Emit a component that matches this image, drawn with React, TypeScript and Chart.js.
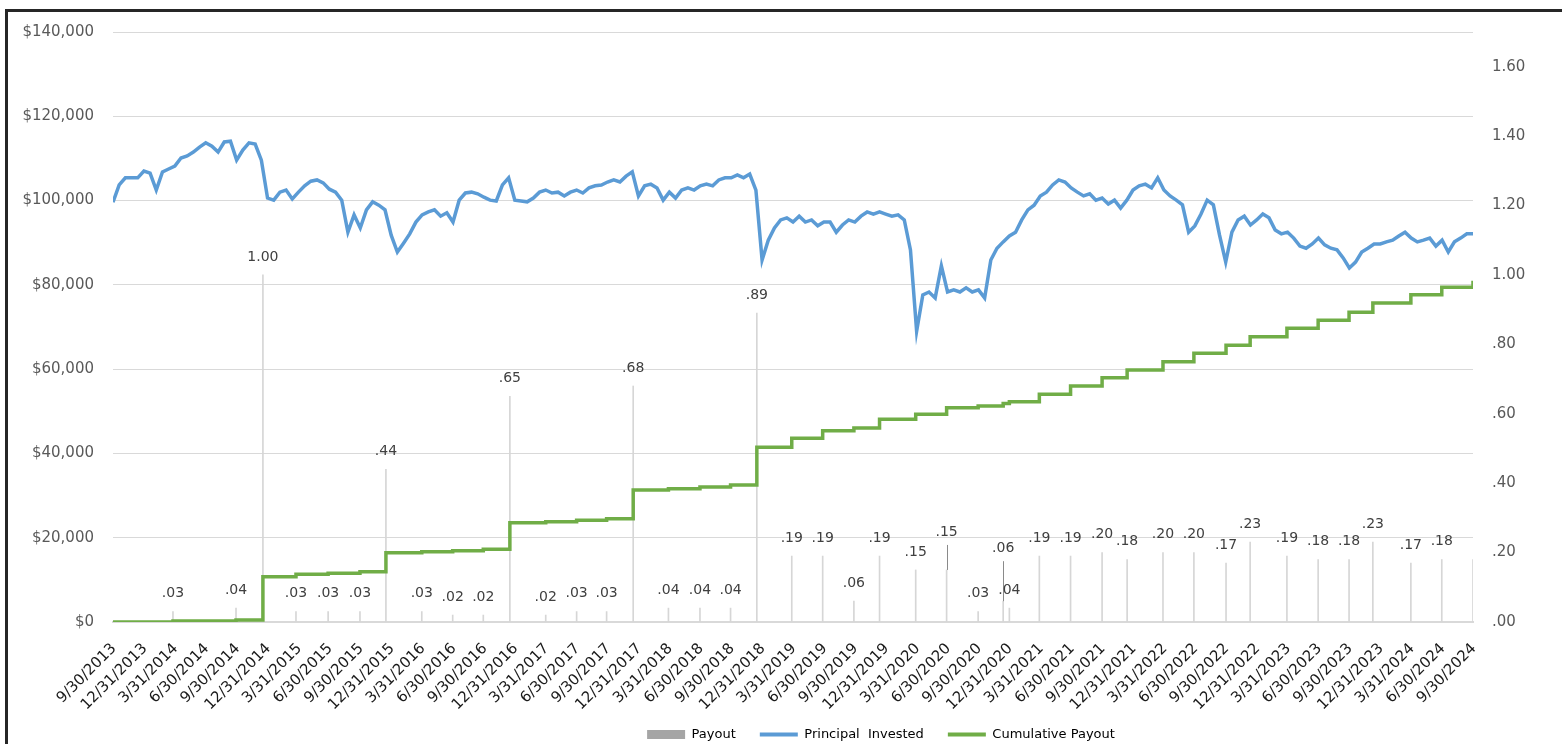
import React, { useEffect, useRef } from 'react';
import { Chart, registerables } from 'chart.js';

Chart.register(...registerables);

const FONT = "'DejaVu Sans', Lato, sans-serif";

// Quarter-end tick labels (x = quarters since 9/30/2013)
const tickLabels = [
  '9/30/2013', '12/31/2013',
  '3/31/2014', '6/30/2014', '9/30/2014', '12/31/2014',
  '3/31/2015', '6/30/2015', '9/30/2015', '12/31/2015',
  '3/31/2016', '6/30/2016', '9/30/2016', '12/31/2016',
  '3/31/2017', '6/30/2017', '9/30/2017', '12/31/2017',
  '3/31/2018', '6/30/2018', '9/30/2018', '12/31/2018',
  '3/31/2019', '6/30/2019', '9/30/2019', '12/31/2019',
  '3/31/2020', '6/30/2020', '9/30/2020', '12/31/2020',
  '3/31/2021', '6/30/2021', '9/30/2021', '12/31/2021',
  '3/31/2022', '6/30/2022', '9/30/2022', '12/31/2022',
  '3/31/2023', '6/30/2023', '9/30/2023', '12/31/2023',
  '3/31/2024', '6/30/2024', '9/30/2024',
];

// Payout dates (in quarters since 9/30/2013)
const payoutQuarter = [
  1.94, 3.98, 4.85, 5.92, 6.96, 7.99, 8.83, 9.99, 10.99, 11.98,
  12.84, 14.0, 15.0, 15.97, 16.83, 17.97, 18.99, 19.98, 20.83, 21.96,
  22.96, 23.97, 24.8, 25.97, 26.97, 27.99, 28.8, 29.0, 29.97, 30.98,
  32.0, 32.81, 33.97, 34.97, 36.01, 36.79, 37.98, 38.99, 39.99, 40.76,
  41.99, 42.99, 44.0,
];

// Payout per share
const payoutAmount = [
  0.03, 0.04, 1.0, 0.03, 0.03, 0.03, 0.44, 0.03, 0.02, 0.02,
  0.65, 0.02, 0.03, 0.03, 0.68, 0.04, 0.04, 0.04, 0.89, 0.19,
  0.19, 0.06, 0.19, 0.15, 0.15, 0.03, 0.06, 0.04, 0.19, 0.19,
  0.2, 0.18, 0.2, 0.2, 0.17, 0.23, 0.19, 0.18, 0.18, 0.23,
  0.17, 0.18, 0.18,
];

// Cumulative payout ($) after each payout date
const cumulativePayout = [
  230, 470, 10750, 11320, 11560, 11940, 16440, 16680, 16920, 17250,
  23560, 23800, 24130, 24510, 31320, 31630, 32030, 32510, 41450, 43590,
  45390, 46030, 48090, 49280, 50850, 51250, 51850, 52270, 54030, 56000,
  57970, 59800, 61770, 63750, 65640, 67700, 69690, 71590, 73490, 75700,
  77660, 79420, 80990,
];

// Principal invested ($), sampled every 1/5 quarter from 9/30/2013
const principalStep = 0.2;
const principalInvested = [
  99600, 103700, 105400, 105400, 105400, 107000, 106500, 102500, 106800, 107500,
  108200, 110100, 110600, 111500, 112700, 113700, 112900, 111500, 113900, 114100,
  109600, 112000, 113700, 113400, 109600, 100600, 100100, 102000, 102500, 100400,
  102000, 103500, 104600, 104900, 104200, 102700, 102000, 100100, 92500, 96600,
  93500, 97800, 99700, 98900, 97800, 91800, 87800, 89900, 92100, 94900,
  96600, 97300, 97800, 96300, 97100, 94900, 100100, 101800, 102000, 101600,
  100800, 100100, 99900, 103700, 105400, 100100, 99900, 99700, 100600, 102000,
  102500, 101800, 102000, 101100, 102000, 102500, 101800, 103000, 103500, 103700,
  104400, 104900, 104400, 105800, 106800, 101100, 103500, 103900, 103000, 100100,
  102000, 100600, 102500, 103000, 102500, 103500, 103900, 103500, 104900, 105400,
  105400, 106100, 105400, 106300, 102500, 85900, 90600, 93500, 95400, 95900,
  94900, 96300, 94900, 95400, 94000, 94900, 94900, 92500, 94200, 95400,
  94900, 96300, 97300, 96800, 97300, 96800, 96300, 96600, 95400, 88300,
  69000, 77600, 78300, 76900, 84500, 78300, 78800, 78300, 79300, 78300,
  78800, 76900, 85900, 88700, 90200, 91600, 92500, 95400, 97800, 98900,
  101100, 102000, 103700, 104900, 104400, 103000, 102000, 101100, 101600, 100100,
  100600, 99200, 100100, 98200, 100100, 102500, 103500, 103900, 103000, 105400,
  102500, 101100, 100100, 99000, 92500, 94000, 96800, 100100, 99000, 91800,
  85400, 92500, 95400, 96300, 94200, 95400, 96800, 95900, 93000, 92100,
  92500, 91100, 89200, 88700, 89700, 91100, 89500, 88700, 88300, 86400,
  84000, 85400, 87800, 88700, 89700, 89700, 90200, 90600, 91600, 92500,
  91100, 90200, 90600, 91100, 89200, 90600, 87800, 90200, 91100, 92100,
  92100,
];

// Label display tweaks (index -> lift in px, with leader line); last bar unlabeled
const liftedLabels: Record<number, number> = { 24: 38, 26: 53 };
const unlabeledPayouts = [42];

const fmtPayout = (v: number) => {
  const s = v.toFixed(2);
  return s.startsWith('0') ? s.slice(1) : s;
};

const payoutLabelPlugin = {
  id: 'payoutLabels',
  afterDatasetsDraw(chart: any) {
    const meta = chart.getDatasetMeta(0);
    const ctx = chart.ctx;
    ctx.save();
    ctx.font = `14px ${FONT}`;
    ctx.fillStyle = '#404040';
    ctx.textAlign = 'center';
    ctx.textBaseline = 'middle';
    meta.data.forEach((el: any, i: number) => {
      if (unlabeledPayouts.includes(i)) return;
      const top = el.y;
      const lift = liftedLabels[i];
      const cy = top - (lift ?? 18);
      if (lift) {
        ctx.strokeStyle = '#8a8a8a';
        ctx.lineWidth = 1;
        ctx.beginPath();
        ctx.moveTo(Math.round(el.x) + 0.5, cy + 13);
        ctx.lineTo(Math.round(el.x) + 0.5, top);
        ctx.stroke();
      }
      ctx.fillText(fmtPayout(payoutAmount[i]), el.x, cy);
    });
    ctx.restore();
  },
};

// Place legend where the reference has it; let x labels use the space below the axis
const layoutTweakPlugin = {
  id: 'layoutTweak',
  afterLayout(chart: any) {
    const lg = chart.legend;
    if (lg) {
      lg.left += 100;
      lg.right += 100;
      lg.top += 7;
      lg.bottom += 7;
    }
    const x = chart.scales.x;
    if (x) x.bottom = chart.height;
  },
};

export default function App() {
  const canvasRef = useRef<HTMLCanvasElement | null>(null);

  useEffect(() => {
    if (!canvasRef.current) return;
    Chart.defaults.font.family = FONT;
    const chart = new Chart(canvasRef.current, {
      type: 'line',
      data: {
        datasets: [
          {
            type: 'bar',
            label: 'Payout',
            data: payoutQuarter.map((q, i) => ({ x: q, y: payoutAmount[i] })),
            yAxisID: 'y1',
            backgroundColor: '#d6d6d6',
            barThickness: 1,
            order: 3,
          } as any,
          {
            type: 'line',
            label: 'Principal  Invested',
            data: principalInvested.map((v, i) => ({ x: i * principalStep, y: v })),
            yAxisID: 'y',
            borderColor: '#5b9bd5',
            backgroundColor: '#5b9bd5',
            borderWidth: 3.5,
            pointRadius: 0,
            tension: 0,
            order: 2,
          },
          {
            type: 'line',
            label: 'Cumulative Payout',
            data: [{ x: 0, y: 0 }].concat(
              payoutQuarter.map((q, i) => ({ x: q, y: cumulativePayout[i] }))
            ),
            yAxisID: 'y',
            borderColor: '#70ad47',
            backgroundColor: '#70ad47',
            borderWidth: 3.5,
            pointRadius: 0,
            stepped: true,
            order: 1,
          },
        ],
      },
      options: {
        animation: false,
        responsive: true,
        maintainAspectRatio: false,
        layout: { padding: { top: 32, left: 0, right: 0, bottom: 0 } },
        plugins: {
          tooltip: { enabled: false },
          legend: {
            position: 'bottom',
            labels: {
              usePointStyle: true,
              pointStyleWidth: 38,
              boxWidth: 38,
              boxHeight: 9,
              padding: 24,
              color: '#595959',
              font: { size: 13, family: FONT },
              generateLabels: () => [
                { text: 'Payout', fillStyle: '#a5a5a5', strokeStyle: '#a5a5a5', lineWidth: 0, pointStyle: 'rect', hidden: false, datasetIndex: 0 },
                { text: 'Principal  Invested', fillStyle: '#5b9bd5', strokeStyle: '#5b9bd5', lineWidth: 4, pointStyle: 'line', hidden: false, datasetIndex: 1 },
                { text: 'Cumulative Payout', fillStyle: '#70ad47', strokeStyle: '#70ad47', lineWidth: 4, pointStyle: 'line', hidden: false, datasetIndex: 2 },
              ],
            },
          },
        },
        scales: {
          x: {
            type: 'linear',
            min: 0,
            max: 44,
            offset: false,
            grid: { display: false },
            border: { display: true, color: '#d9d9d9', width: 2 },
            ticks: {
              stepSize: 1,
              autoSkip: false,
              maxTicksLimit: 60,
              minRotation: 45,
              maxRotation: 45,
              color: '#1a1a1a',
              font: { size: 15, family: FONT },
              padding: 10,
              labelOffset: 1,
              callback: (v: any) => tickLabels[Math.round(Number(v))] ?? '',
            },
            afterFit: (s: any) => {
              const lg = s.chart.legend;
              s.height = Math.max(10, s.chart.height - 622 - (lg ? lg.height : 0));
            },
          },
          y: {
            position: 'left',
            min: 0,
            max: 140000,
            grid: { color: '#d9d9d9', lineWidth: 1, drawTicks: false },
            border: { display: false },
            ticks: {
              stepSize: 20000,
              padding: 19,
              color: '#595959',
              font: { size: 15, family: FONT },
              callback: (v: any) => '$' + Number(v).toLocaleString('en-US'),
            },
            afterFit: (s: any) => {
              s.width = 113;
            },
          },
          y1: {
            position: 'right',
            min: 0,
            max: 1.7,
            grid: { display: false, drawTicks: false },
            border: { display: false },
            ticks: {
              stepSize: 0.2,
              padding: 19,
              color: '#595959',
              font: { size: 15, family: FONT },
              callback: (v: any) => fmtPayout(Number(v)),
            },
            afterBuildTicks: (s: any) => {
              s.ticks = s.ticks.filter((t: any) => t.value <= 1.6001);
            },
            afterFit: (s: any) => {
              s.width = 89;
            },
          },
        },
      },
      plugins: [payoutLabelPlugin, layoutTweakPlugin],
    });
    return () => chart.destroy();
  }, []);

  return (
    <>
      <div style={{ position: 'fixed', left: 0, top: 0, width: 1562, height: 744 }}>
        <canvas ref={canvasRef} />
      </div>
      <div
        style={{
          position: 'fixed',
          left: 5,
          top: 9,
          width: 1600,
          height: 800,
          borderTop: '3px solid #262626',
          borderLeft: '3px solid #262626',
          boxSizing: 'border-box',
          pointerEvents: 'none',
        }}
      />
    </>
  );
}
